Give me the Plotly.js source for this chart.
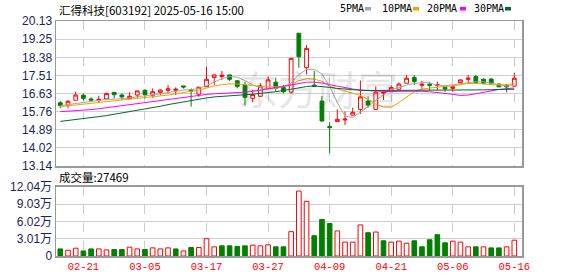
<!DOCTYPE html>
<html><head><meta charset="utf-8">
<script src="https://cdn.plot.ly/plotly-3.0.1.min.js"></script>
<style>html,body{margin:0;padding:0;background:#fff}#c{width:578px;height:276px}</style>
</head><body><div id="c"></div>
<script>
const dates = ['02-18','02-19','02-20','02-21','02-24','02-25','02-26','02-27','02-28','03-03',
'03-04','03-05','03-06','03-07','03-10','03-11','03-12','03-13','03-14','03-17',
'03-18','03-19','03-20','03-21','03-24','03-25','03-26','03-27','03-28','03-31',
'04-01','04-02','04-03','04-07','04-08','04-09','04-10','04-11','04-14','04-15',
'04-16','04-17','04-18','04-21','04-22','04-23','04-24','04-25','04-28','04-29',
'04-30','05-06','05-07','05-08','05-09','05-12','05-13','05-14','05-15','05-16'];
const openP = [16.19,16.06,16.31,16.55,16.37,16.31,16.37,16.69,16.56,16.39,
16.56,16.79,16.55,16.69,16.79,16.79,17.00,16.80,16.60,16.96,
17.41,17.45,17.53,17.25,17.04,16.40,16.50,16.88,17.18,16.92,
16.70,19.54,17.88,17.04,16.27,15.04,15.28,15.36,15.59,15.87,
16.27,15.87,16.65,16.72,16.84,17.13,17.41,17.03,17.08,17.03,
16.93,16.88,17.16,17.32,17.45,17.32,17.33,17.09,17.01,16.99];
const highP = [16.27,16.32,16.72,16.64,16.45,16.53,16.68,16.69,16.64,16.69,
16.76,16.84,16.88,16.84,17.04,16.93,17.00,16.88,16.93,17.93,
17.53,17.72,17.53,17.25,17.21,16.80,17.12,17.45,17.40,17.04,
18.33,19.54,18.97,17.72,16.51,15.25,15.87,15.77,15.96,17.26,
16.50,16.98,16.72,17.04,17.16,17.53,17.53,17.25,17.21,17.21,
17.00,17.04,17.32,17.53,17.53,17.37,17.37,17.12,17.09,17.64];
const lowP = [15.92,15.92,16.31,16.31,16.23,16.19,16.37,16.40,16.31,16.39,
16.43,16.39,16.43,16.56,16.64,16.56,16.87,16.00,16.48,16.96,
17.05,17.29,17.24,16.88,16.05,16.21,16.50,16.88,16.75,16.64,
16.64,17.88,17.56,16.96,15.28,13.76,15.28,15.12,15.59,15.65,
15.95,15.87,16.32,16.72,16.84,17.13,17.05,16.84,16.80,16.80,
16.72,16.72,17.09,17.13,17.09,17.13,17.09,16.93,16.69,16.96];
const closeP = [16.05,16.26,16.56,16.40,16.32,16.35,16.63,16.58,16.47,16.50,
16.76,16.59,16.72,16.80,16.86,16.84,16.95,16.75,16.94,17.32,
17.53,17.52,17.32,16.98,16.45,16.58,17.00,17.29,16.88,16.72,
18.33,18.41,18.81,16.99,15.31,14.99,15.39,15.40,15.73,16.47,
16.08,16.70,16.69,16.92,17.09,17.37,17.21,17.08,17.03,17.06,
16.86,16.96,17.29,17.37,17.16,17.13,17.13,16.96,16.96,17.37];
const ma5 = [16.05,16.10,16.18,16.22,16.28,16.33,16.35,16.36,16.38,16.42,
16.48,16.52,16.56,16.62,16.68,16.74,16.80,16.82,16.88,17.02,
17.18,17.35,17.45,17.42,17.25,17.05,16.92,16.86,16.88,16.96,
17.14,17.55,17.80,17.80,17.58,16.98,16.20,15.55,15.48,15.72,
16.00,16.30,16.58,16.84,16.92,17.04,17.12,17.16,17.14,17.04,
17.01,17.05,17.09,17.16,17.20,17.20,17.12,17.05,16.99,17.03];
const ma10 = [16.00,16.04,16.08,16.12,16.16,16.19,16.22,16.26,16.29,16.33,
16.37,16.41,16.45,16.50,16.56,16.62,16.67,16.72,16.80,16.90,
17.00,17.06,17.10,17.09,17.07,17.03,16.98,16.95,16.96,16.98,
17.05,17.25,17.35,17.33,17.22,17.00,16.85,16.75,16.66,16.55,
16.35,16.12,15.98,15.98,16.20,16.45,16.72,16.85,16.90,16.95,
16.98,17.00,17.06,17.12,17.12,17.10,17.06,17.04,17.07,17.10];
const ma20 = [15.76,15.78,15.80,15.83,15.86,15.90,15.95,16.00,16.04,16.09,
16.14,16.19,16.25,16.31,16.37,16.42,16.46,16.50,16.55,16.59,
16.62,16.64,16.65,16.66,16.70,16.74,16.79,16.85,16.92,16.98,
17.05,17.12,17.18,17.18,17.14,17.06,16.98,16.90,16.85,16.80,
16.78,16.75,16.73,16.72,16.74,16.75,16.75,16.74,16.72,16.69,
16.66,16.60,16.54,16.56,16.62,16.70,16.77,16.83,16.87,16.90];
const ma30 = [15.29,15.33,15.37,15.42,15.47,15.52,15.57,15.63,15.69,15.75,
15.81,15.88,15.95,16.02,16.10,16.17,16.24,16.30,16.36,16.42,
16.47,16.49,16.51,16.53,16.56,16.60,16.64,16.67,16.72,16.78,
16.85,16.92,16.97,17.00,16.98,16.93,16.88,16.84,16.81,16.79,
16.78,16.78,16.78,16.78,16.78,16.78,16.78,16.78,16.78,16.78,
16.79,16.79,16.79,16.80,16.80,16.81,16.82,16.82,16.83,16.84];
// volume in 万手
const volume = [1.23,1.00,1.35,0.88,1.23,1.23,1.06,1.12,1.12,1.53,
1.23,1.12,1.41,1.23,1.41,1.23,0.88,1.47,1.47,3.00,
1.59,1.76,1.76,1.64,1.76,1.88,1.76,1.94,1.59,1.59,
4.23,11.28,9.51,3.52,6.34,5.64,4.35,2.41,2.41,5.40,
4.05,4.17,2.64,2.41,2.58,2.23,2.64,1.59,2.82,3.70,
2.29,2.58,2.41,1.59,1.59,1.59,1.41,1.41,1.59,2.7469];
// 1 = up day (red hollow), 0 = down day (green filled)
const volUp = [0,1,1,0,0,1,1,0,0,1, 1,0,1,1,1,0,1,0,1,1, 1,0,0,0,0,1,1,1,0,0,
1,1,1,0,0,0,1,1,1,1, 0,1,0,1,1,1,0,0,0,0, 0,1,1,1,0,1,0,0,1,1];
const tickDates = ['02-21','03-05','03-17','03-27','04-09','04-21','05-06','05-16'];
const priceTicks = [13.14,14.02,14.89,15.76,16.63,17.51,18.38,19.25,20.13];
const volTicks = [0,3.01,6.02,9.03,12.04];
const volTickText = ['0','3.01万','6.02万','9.03万','12.04万'];
const maNames = ['5PMA','10PMA','20PMA','30PMA'];
const maColors = ['#a6a6a6','#f5a000','#ff00ff','#006c2a'];
const titleText = '汇得科技[603192] 2025-05-16 15:00';
const volLabel = '成交量:27469';

const RED = '#ff0000', GREEN = '#007f00';
const L = 56, R = 56, T = 21, B = 20, W = 578, H = 276;
const pw = W - L - R, ph = H - T - B;
const px = x => (x - L) / pw;
const py = y => (H - B - y) / ph;

const maData = [ma5, ma10, ma20, ma30];
const traces = [];
maData.forEach((m, k) => traces.push({
  type: 'scatter', mode: 'lines', x: dates, y: m, xaxis: 'x', yaxis: 'y',
  line: {color: maColors[k], width: 1}, hoverinfo: 'skip', showlegend: false
}));
traces.push({
  type: 'candlestick', x: dates, open: openP, high: highP, low: lowP, close: closeP,
  xaxis: 'x', yaxis: 'y', whiskerwidth: 0, showlegend: false, hoverinfo: 'skip',
  increasing: {line: {color: RED, width: 1}, fillcolor: '#ffffff'},
  decreasing: {line: {color: GREEN, width: 1}, fillcolor: GREEN}
});
traces.push({
  type: 'bar', x: dates, y: volume, xaxis: 'x2', yaxis: 'y2', width: 0.6,
  marker: {color: volUp.map(u => u ? '#ffffff' : GREEN),
           line: {color: volUp.map(u => u ? RED : GREEN), width: 1}},
  hoverinfo: 'skip', showlegend: false
});

const axFrame = {showline: true, mirror: true, linecolor: '#999999', linewidth: 1.5};
const xBase = Object.assign({
  type: 'category', range: [-0.56, 60.0], tickmode: 'array', tickvals: tickDates,
  showgrid: true, gridcolor: '#cccccc', griddash: 'dash', gridwidth: 1,
  ticks: '', zeroline: false, fixedrange: true
}, axFrame);

const annotations = [
  {text: titleText, xref: 'paper', yref: 'paper', x: px(57), y: py(10), xanchor: 'left', yanchor: 'middle',
   showarrow: false, font: {family: 'Noto Sans CJK SC', size: 11.5, color: '#000'}},
  {text: volLabel, xref: 'paper', yref: 'paper', x: px(57), y: py(177), xanchor: 'left', yanchor: 'middle',
   showarrow: false, font: {family: 'Noto Sans CJK SC', size: 11.5, color: '#000'}},
  {text: '东方财富', xref: 'paper', yref: 'paper', x: px(318), y: py(88), xanchor: 'center', yanchor: 'middle',
   showarrow: false, opacity: 0.13, font: {family: 'Noto Sans CJK SC', size: 40, color: '#445'}}
];
const legX = [338, 380, 425, 472];
const legSq = [365, 413, 460, 505];
const shapes = [];
maNames.forEach((n, k) => {
  annotations.push({text: n, xref: 'paper', yref: 'paper', x: px(legX[k]), y: py(9), xanchor: 'left', yanchor: 'middle',
    showarrow: false, font: {family: 'DejaVu Sans Mono', size: 10, color: '#000'}});
  shapes.push({type: 'rect', xref: 'paper', yref: 'paper', x0: px(legSq[k]), x1: px(legSq[k] + 6),
    y0: py(10.5), y1: py(7), fillcolor: maColors[k], line: {width: 0}});
});

const layout = {
  width: W, height: H, margin: {l: L, r: R, t: T, b: B, pad: 0},
  paper_bgcolor: '#ffffff', plot_bgcolor: '#ffffff', showlegend: false,
  xaxis: Object.assign({}, xBase, {anchor: 'y', showticklabels: false}),
  xaxis2: Object.assign({}, xBase, {anchor: 'y2', matches: 'x', showticklabels: true,
    tickfont: {family: 'Liberation Mono', size: 10.5, color: RED}, rangeslider: {visible: false}}),
  yaxis: Object.assign({
    domain: [py(166), 1], range: [13.14, 20.13], tickmode: 'array', tickvals: priceTicks,
    ticktext: priceTicks.map(v => v.toFixed(2)), showgrid: true, gridcolor: '#d0d0d0', gridwidth: 1,
    zeroline: false, ticks: '', tickfont: {family: 'Liberation Sans', size: 12, color: '#1b2457'}, fixedrange: true
  }, axFrame),
  yaxis2: Object.assign({
    domain: [0, py(186.7)], range: [0, 12.04], tickmode: 'array', tickvals: volTicks, ticktext: volTickText,
    showgrid: true, gridcolor: '#d0d0d0', gridwidth: 1, zeroline: false, ticks: '',
    tickfont: {family: 'Liberation Sans, Noto Sans CJK SC', size: 12, color: '#1b2457'}, fixedrange: true
  }, axFrame),
  annotations: annotations, shapes: shapes
};
layout.xaxis.rangeslider = {visible: false};
Plotly.newPlot('c', traces, layout, {staticPlot: true, displayModeBar: false});
</script></body></html>
